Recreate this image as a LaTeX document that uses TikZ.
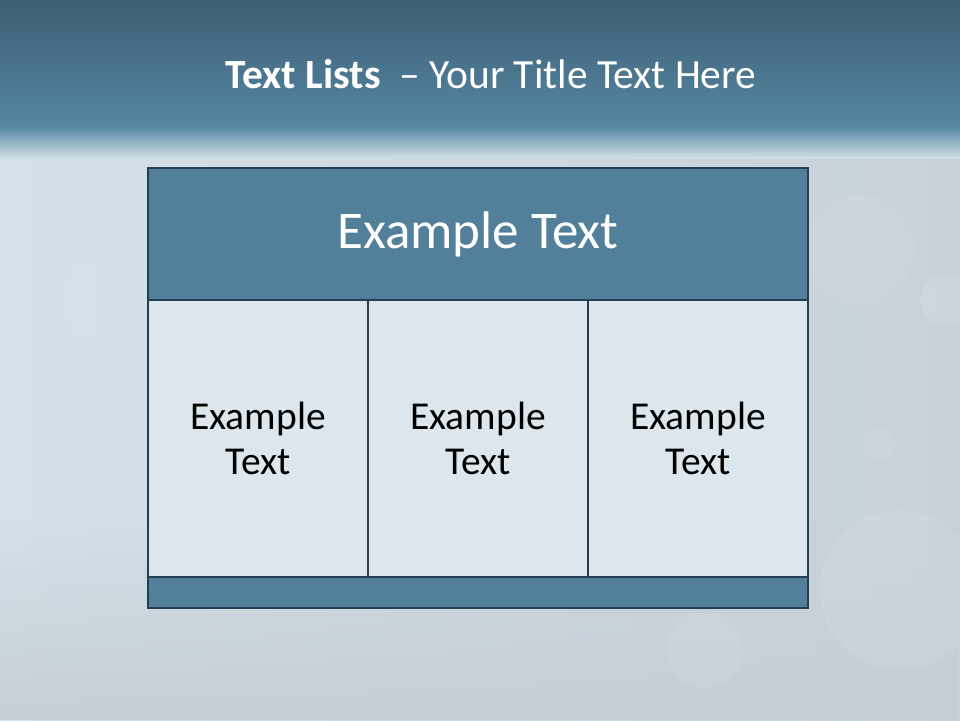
\documentclass[tikz,border=0pt]{standalone}
\usepackage{fontspec}
\setmainfont{Carlito}
\usetikzlibrary{
  positioning,
  calc,
  fadings
}
\definecolor{topdark}{HTML}{3D5F74}
\definecolor{topmid}{HTML}{5686A3}
\definecolor{bgleft}{HTML}{D3E1E9}
\definecolor{bgright}{HTML}{C8D1D8}
\definecolor{bgbottom}{HTML}{C6CED5}
\definecolor{headblue}{HTML}{527F99}
\definecolor{frameblue}{HTML}{243F52}
\definecolor{cellfill}{HTML}{DCE6EC}

\begin{document}
\begin{tikzpicture}[
  x=1pt, y=-1pt,
  cellbox/.style={
    rectangle,
    draw=frameblue,
    fill=#1,
    line width=2.6pt,
    anchor=north west,
    inner sep=0pt,
    outer sep=0pt,
    align=center,
  },
  cellbox/.default=cellfill,
  celltext/.style={
    font=\fontsize{39.5}{45}\selectfont,
    text=black,
    align=center,
  },
  headtext/.style={
    font=\fontsize{53}{60}\selectfont,
    text=#1,
  },
  headtext/.default=white,
  bokeh/.style={
    fill=white,
    opacity=#1,
  },
  bokeh/.default=0.08,
]
\useasboundingbox (0,0) rectangle (960,720);

% ── Background ──
\shade[left color=bgleft, right color=bgright] (0,0) rectangle (960,720);
\fill[bgbottom, path fading=north] (0,520) rectangle (960,720);
\fill[bokeh] (900,590) circle (80pt);
\fill[bokeh=0.12] (945,300) circle (25pt);
\fill[bokeh] (880,445) circle (16pt);
\fill[bokeh] (705,650) circle (38pt);
\fill[bokeh=0.06] (860,250) circle (55pt);
\fill[bokeh=0.06] (110,300) circle (45pt);
\shade[top color=topdark, bottom color=topmid] (0,0) rectangle (960,126);
\shade[top color=topmid, bottom color=bgleft!80!bgright] (0,126) rectangle (960,158);

% ── Title ──
\node[text=white, font=\fontsize{41.5}{48}\selectfont] (title) at (491,74)
  {\textbf{Text Lists}\ \ – Your Title Text Here};

% ── Table ──
\node[cellbox=headblue, minimum width=660pt, minimum height=132pt] (head) at (148,168) {};
\node[headtext] (headlabel) at (head.center) {Example Text};

\node[cellbox, minimum width=220pt, minimum height=277pt] (cellA) at (head.south west) {};
\node[cellbox, minimum width=220pt, minimum height=277pt] (cellB) at (cellA.north east) {};
\node[cellbox, minimum width=220pt, minimum height=277pt] (cellC) at (cellB.north east) {};

\node[celltext] (textA) at (cellA.center) {Example\\Text};
\node[celltext] (textB) at (cellB.center) {Example\\Text};
\node[celltext] (textC) at (cellC.center) {Example\\Text};

\node[cellbox=headblue, minimum width=660pt, minimum height=31pt] (foot) at (cellA.south west) {};

\end{tikzpicture}
\end{document}
